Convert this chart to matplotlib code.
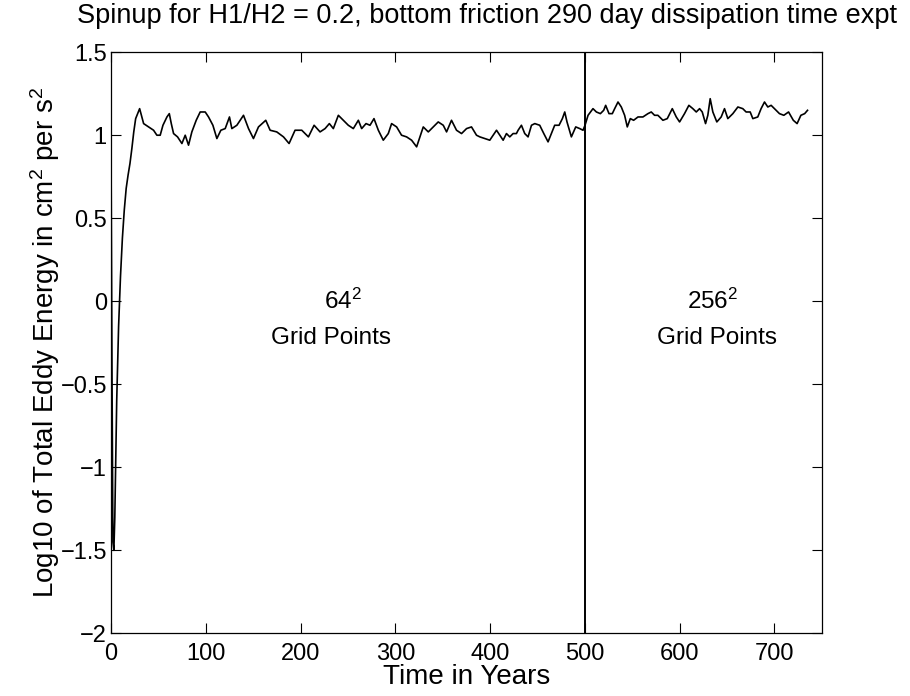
import matplotlib
matplotlib.use("Agg")
import matplotlib.pyplot as plt

plt.rcParams["font.family"] = ["Liberation Sans", "DejaVu Sans"]
plt.rcParams["mathtext.fontset"] = "custom"
plt.rcParams["mathtext.rm"] = "Liberation Sans"
plt.rcParams["mathtext.it"] = "Liberation Sans"

# spinup transient (years, log10 energy)
spinup_years = [0, 1, 2, 3, 4, 5, 6, 8, 10, 12, 14, 16, 18, 20, 22, 24, 26]
spinup_energy = [0.9, -0.4, -1.45, -1.5, -1.3, -0.95, -0.6, -0.15, 0.15,
                 0.38, 0.55, 0.68, 0.76, 0.83, 0.92, 1.02, 1.10]

# 64^2 grid run
grid64_years = [30.2, 34.4, 39.7, 44.9, 48.4, 51.9, 54.8, 59.0, 61.5, 63.6,
                66.0, 70.2, 74.8, 78.3, 81.8, 85.3, 89.9, 94.1, 99.4, 102.9,
                107.5, 111.7, 115.9, 120.5, 125.0, 127.5, 132.8, 139.8, 145.1, 150.3,
                155.6, 163.3, 167.9, 174.9, 182.0, 187.9, 194.2, 201.3, 208.3, 214.3,
                220.6, 225.9, 230.4, 234.6, 239.9, 245.2, 250.4, 255.7, 261.0, 264.5,
                269.1, 273.3, 277.5, 282.1, 287.3, 292.6, 296.1, 301.4, 306.6, 311.9,
                317.2, 322.5, 326.0, 329.5, 334.8, 340.0, 345.3, 350.6, 354.1, 359.3,
                364.6, 369.9, 375.2, 380.4, 385.7,
                389.2, 394.5, 399.7, 403.3, 406.8, 410.3, 413.8, 417.3, 420.8, 424.3,
                427.8, 429.6, 433.1, 436.6, 440.1, 443.7, 447.2, 452.4, 456.7, 461.2,
                464.7, 468.2, 472.8, 476.3, 478.8, 481.2, 485.8, 490.4, 494.6, 498.1]
grid64_energy = [1.16, 1.07, 1.05, 1.03, 1.0, 1.0, 1.06, 1.11, 1.13, 1.07,
                 1.01, 0.99, 0.95, 1.0, 0.94, 1.02, 1.09, 1.14, 1.14, 1.11,
                 1.06, 0.98, 1.03, 1.04, 1.11, 1.04, 1.06, 1.12, 1.04, 0.98,
                 1.05, 1.09, 1.03, 1.02, 0.99, 0.95, 1.03, 1.03, 0.99, 1.06,
                 1.02, 1.04, 1.07, 1.04, 1.12, 1.09, 1.06, 1.04, 1.09, 1.04,
                 1.07, 1.06, 1.10, 1.03, 0.97, 1.01, 1.07, 1.05, 1.0, 0.99,
                 0.97, 0.93, 0.99, 1.05, 1.02, 1.05, 1.08, 1.06, 1.02, 1.09,
                 1.03, 1.01, 1.04, 1.05, 1.0,
                 0.99, 0.98, 0.97, 1.0, 1.03, 1.0, 0.97, 1.01, 0.99, 1.01,
                 1.01, 1.03, 1.06, 1.01, 0.99, 1.06, 1.07, 1.06, 1.01, 0.96,
                 1.01, 1.06, 1.06, 1.10, 1.14, 1.08, 0.99, 1.05, 1.04, 1.03]

# 256^2 grid run
grid256_years = [500.2, 503.4, 508.6, 512.2, 516.4, 519.9, 522.0, 525.5, 529.0, 531.5,
                 535.0, 538.5, 542.0, 544.8, 548.0, 551.5, 556.1, 561.3, 566.6, 570.1,
                 573.6, 577.1, 582.4, 587.0, 592.3, 596.5, 600.0, 605.2, 609.8, 614.0,
                 617.6, 621.1, 623.9, 627.4, 629.8, 632.3, 635.1, 639.3, 643.9, 647.4,
                 650.9, 656.2, 661.5, 666.7, 670.2, 674.5, 677.3, 682.5, 686.0, 689.6,
                 693.1, 696.6, 700.1, 705.4, 710, 715, 720, 724, 728, 732, 735]
grid256_energy = [1.06, 1.12, 1.16, 1.14, 1.13, 1.15, 1.18, 1.13, 1.13, 1.16,
                  1.20, 1.17, 1.12, 1.05, 1.10, 1.09, 1.11, 1.11, 1.13, 1.14,
                  1.12, 1.12, 1.09, 1.10, 1.16, 1.11, 1.08, 1.13, 1.18, 1.16,
                  1.14, 1.16, 1.14, 1.07, 1.12, 1.22, 1.14, 1.08, 1.11, 1.16,
                  1.10, 1.13, 1.17, 1.16, 1.14, 1.14, 1.10, 1.11, 1.16, 1.20,
                  1.17, 1.18, 1.16, 1.13, 1.12, 1.14, 1.09, 1.07, 1.12, 1.13, 1.15]

switch_year = 500
x_ticks = [0, 100, 200, 300, 400, 500, 600, 700]
y_ticks = [-2, -1.5, -1, -0.5, 0, 0.5, 1, 1.5]
y_ticklabels = ["\u22122", "\u22121.5", "\u22121", "\u22120.5", "0", "0.5", "1", "1.5"]

years = spinup_years + grid64_years + grid256_years
energy = spinup_energy + grid64_energy + grid256_energy

fig = plt.figure(figsize=(9.1, 6.96), dpi=100)
ax = fig.add_axes([0.122, 0.09, 0.781, 0.835])

ax.plot(years, energy, color="black", linewidth=1.2)
ax.axvline(switch_year, color="black", linewidth=1.4)

ax.set_xlim(0, 750)
ax.set_ylim(-2, 1.5)
ax.set_xticks(x_ticks)
ax.set_yticks(y_ticks)
ax.set_yticklabels(y_ticklabels)
ax.tick_params(direction="in", length=7, width=0.8, labelsize=17,
               top=True, right=True, pad=3)
ax.tick_params(axis="x", pad=7)
for s in ax.spines.values():
    s.set_linewidth(0.9)

ax.set_xlabel("Time in Years", fontsize=20, labelpad=-1)
ax.set_ylabel("Log10 of Total Eddy Energy in cm$^2$ per s$^2$", fontsize=20, labelpad=-1)
fig.text(0.535, 0.977, "Spinup for H1/H2 = 0.2, bottom friction 290 day dissipation time expt",
         ha="center", va="center", fontsize=19.5)

ax.text(245, 0.0, "64$^2$", ha="center", va="center", fontsize=17.5)
ax.text(232, -0.22, "Grid Points", ha="center", va="center", fontsize=17.5)
ax.text(635, 0.0, "256$^2$", ha="center", va="center", fontsize=17.5)
ax.text(640, -0.22, "Grid Points", ha="center", va="center", fontsize=17.5)

fig.savefig("out.png", dpi=100)
